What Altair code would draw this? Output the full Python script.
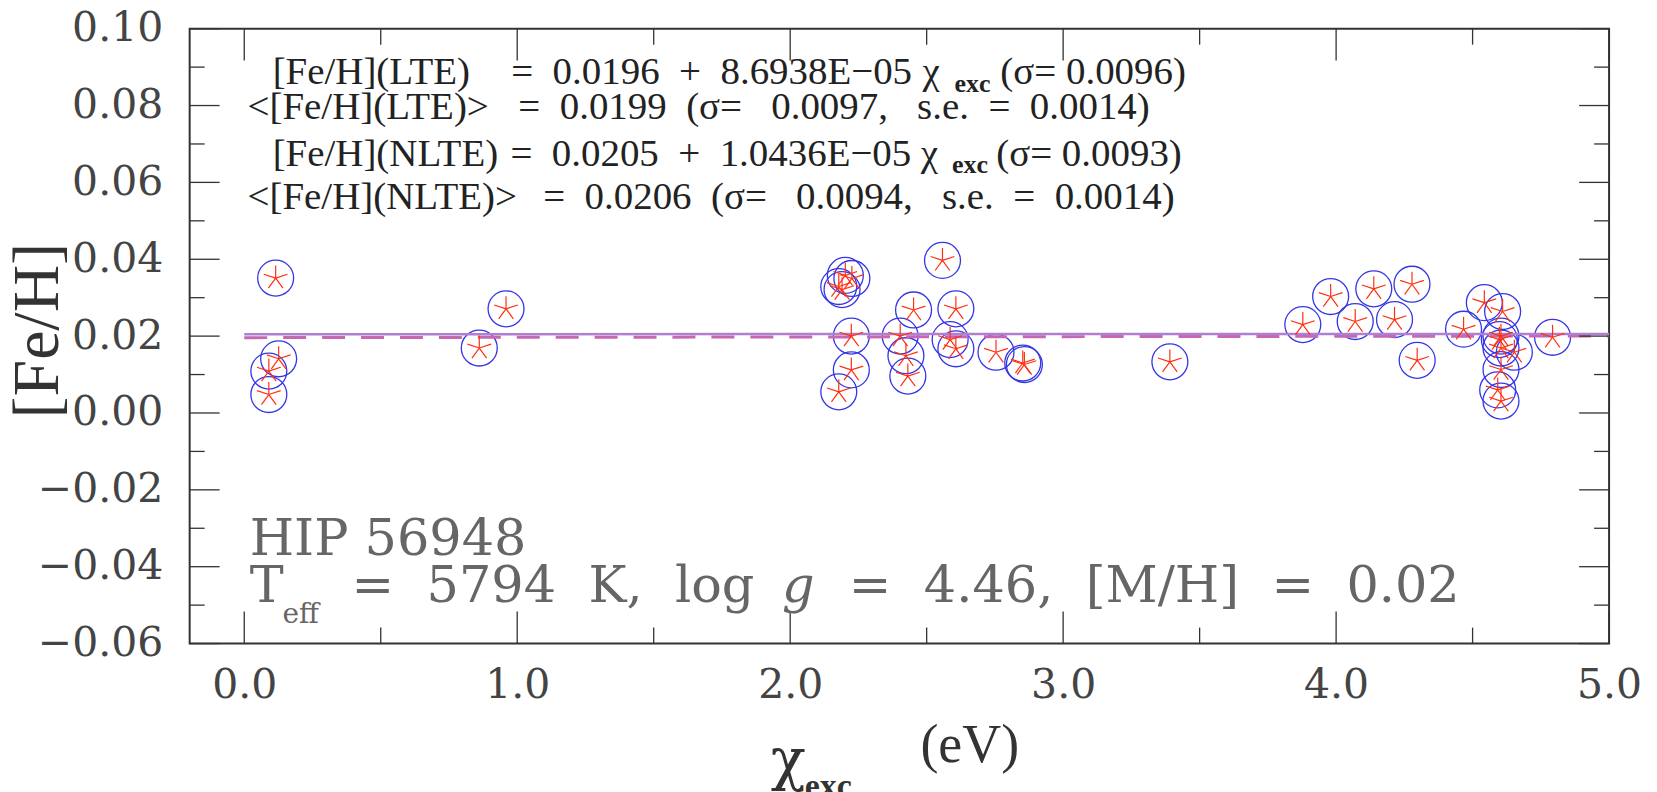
import altair as alt
import pandas as pd

# ---------------- data ----------------
chi_exc = [0.115, 0.126, 0.090, 0.090,
           0.861, 0.959,
           2.178, 2.190, 2.202, 2.226, 2.224, 2.224, 2.178,
           2.558, 2.452, 2.607, 2.403, 2.424, 2.431, 2.586, 2.607, 2.754, 2.852, 2.858,
           3.391,
           3.878, 3.980, 4.070, 4.138, 4.214, 4.278, 4.297,
           4.467, 4.543, 4.610, 4.604, 4.598, 4.604, 4.653, 4.604, 4.592, 4.604, 4.793]
fe_h = [0.0351, 0.0141, 0.0109, 0.0048,
        0.0169, 0.0271,
        0.0329, 0.0321, 0.0358, 0.0350, 0.0200, 0.0112, 0.0055,
        0.0397, 0.0268, 0.0271, 0.0200, 0.0149, 0.0096, 0.0191, 0.0167, 0.0158, 0.0130, 0.0126,
        0.0133,
        0.0230, 0.0303, 0.0238, 0.0323, 0.0243, 0.0335, 0.0137,
        0.0218, 0.0287, 0.0264, 0.0200, 0.0191, 0.0169, 0.0158, 0.0113, 0.0060, 0.0031, 0.0197]

fit_names = ["LTE", "NLTE"]
fit_intercept = [0.0196, 0.0205]
fit_slope = [8.6938e-05, 1.0436e-05]
fit_x_range = [0.0, 5.0]

x_major = [0.0, 1.0, 2.0, 3.0, 4.0, 5.0]
x_minor = [0.5, 1.5, 2.5, 3.5, 4.5]
y_major = [-0.06, -0.04, -0.02, 0.0, 0.02, 0.04, 0.06, 0.08, 0.10]
y_minor = [-0.05, -0.03, -0.01, 0.01, 0.03, 0.05, 0.07, 0.09]

NB = "\u00a0"
S2 = NB * 2
S3 = NB * 3

# top annotation (main text)
ann_text = ["[Fe/H](LTE)",
            "=" + S2 + "0.0196" + S2 + "+" + S2 + "8.6938E\u221205",
            "\u03c7",
            "(\u03c3=" + NB + "0.0096)",
            "<[Fe/H](LTE)>",
            "=" + S2 + "0.0199" + S2 + "(\u03c3=" + S3 + "0.0097," + S3 + "s.e." + S2 + "=" + S2 + "0.0014)",
            "[Fe/H](NLTE)",
            "=" + S2 + "0.0205" + S2 + "+" + S2 + "1.0436E\u221205",
            "\u03c7",
            "(\u03c3=" + NB + "0.0093)",
            "<[Fe/H](NLTE)>",
            "=" + S2 + "0.0206" + S2 + "(\u03c3=" + S3 + "0.0094," + S3 + "s.e." + S2 + "=" + S2 + "0.0014)"]
ann_x = [0.104, 0.978, 2.485, 2.770, 0.012, 1.004, 0.104, 0.975, 2.478, 2.755, 0.012, 1.095]
ann_y = [0.0855, 0.0855, 0.0855, 0.0855, 0.0764, 0.0764,
         0.0643, 0.0643, 0.0643, 0.0643, 0.0530, 0.0530]

sub_text = ["exc", "exc"]
sub_x = [2.602, 2.593]
sub_y = [0.0836, 0.0625]

# star info (bottom left)
star_text = ["HIP" + NB + "56948", "T",
             "=" + S2 + "5794" + S2 + "K," + S2 + "log",
             "=" + S2 + "4.46," + S2 + "[M/H]" + S2 + "=" + S2 + "0.02"]
star_x = [0.0198, 0.0198, 0.393, 2.215]
star_y = [-0.0370, -0.0492, -0.0492, -0.0492]
star_sub_text = ["eff"]
star_sub_x = [0.1404]
star_sub_y = [-0.0547]
star_it_text = ["g"]
star_it_x = [1.970]
star_it_y = [-0.0492]

# x axis title pieces
xt_chi = ["\u03c7"]
xt_chi_x = [1.929]
xt_chi_y = [-0.0952]
xt_sub = ["exc"]
xt_sub_x = [2.053]
xt_sub_y = [-0.0999]
xt_unit = ["(eV)"]
xt_unit_x = [2.477]
xt_unit_y = [-0.0907]

# ---------------- styles ----------------
TICK = "#333333"
TXT = "#222222"
GRAY = "#666666"
SERIF = "Liberation Serif"
WIDE = "DejaVu Serif"
STAR = "M0,-1L0,0M0.951,-0.309L0,0M0.588,0.809L0,0M-0.588,0.809L0,0M-0.951,-0.309L0,0"

xs = alt.Scale(domain=[-0.2, 5.0], nice=False, zero=False)
ys = alt.Scale(domain=[-0.06, 0.10], nice=False, zero=False)

pts = pd.DataFrame({"chi": chi_exc, "feh": fe_h})

xaxis = alt.Axis(values=x_major, format=".1f", ticks=False, tickSize=0, domain=False,
                 grid=False, labelFont=WIDE, labelFontSize=41, labelColor="#444444",
                 labelPadding=22, labelFlush=False, labelOverlap=False, title=None)
yaxis = alt.Axis(values=y_major, format=".2f", ticks=False, tickSize=0, domain=False,
                 grid=False, labelFont=WIDE, labelFontSize=41, labelColor="#444444",
                 labelPadding=27, labelFlush=False, labelOverlap=False,
                 title="[Fe/H]", titleFont=SERIF, titleFontSize=66, titleFontWeight="normal",
                 titleColor="#333333", titleX=-132, titleY=302, titleAngle=270,
                 titleBaseline="alphabetic", titleAlign="center")


def X(field):
    return alt.X(field, scale=xs, axis=xaxis)


def Y(field):
    return alt.Y(field, scale=ys, axis=yaxis)


circles = alt.Chart(pts).mark_point(
    shape="circle", filled=False, size=1296, color="#3535e8", strokeWidth=1.3, opacity=1
).encode(x=X("chi:Q"), y=Y("feh:Q"))

stars = alt.Chart(pts).mark_point(
    shape=STAR, filled=False, size=625, color="#ff3010", strokeWidth=1.2, opacity=1
).encode(x=X("chi:Q"), y=Y("feh:Q"))

# fit lines
rows = []
for n, a, b in zip(fit_names, fit_intercept, fit_slope):
    for xv in fit_x_range:
        rows.append({"fit": n, "x": xv, "y": a + b * xv})
fits = pd.DataFrame(rows)

lte_line = alt.Chart(fits[fits.fit == "LTE"]).mark_line(
    color="#c468b4", strokeWidth=3, strokeDash=[23, 16]
).encode(x=X("x:Q"), y=Y("y:Q"))
nlte_line = alt.Chart(fits[fits.fit == "NLTE"]).mark_line(
    color="#b07fd0", strokeWidth=2.5
).encode(x=X("x:Q"), y=Y("y:Q"))


def vticks(vals, base, off):
    d = pd.DataFrame({"v": vals, "b": [base] * len(vals)})
    return alt.Chart(d).mark_rule(color=TICK, strokeWidth=1.3, y2Offset=off).encode(
        x=X("v:Q"), y=Y("b:Q"), y2="b:Q")


def hticks(vals, base, off):
    d = pd.DataFrame({"v": vals, "b": [base] * len(vals)})
    return alt.Chart(d).mark_rule(color=TICK, strokeWidth=1.3, x2Offset=off).encode(
        y=Y("v:Q"), x=X("b:Q"), x2="b:Q")


ticks = [vticks(x_major, -0.06, -32), vticks(x_minor, -0.06, -16),
         vticks(x_major, 0.10, 32), vticks(x_minor, 0.10, 16),
         hticks(y_major, -0.2, 30), hticks(y_minor, -0.2, 15),
         hticks(y_major, 5.0, -30), hticks(y_minor, 5.0, -15)]


def text_layer(texts, xv, yv, font, size, color, weight="normal", style="normal"):
    d = pd.DataFrame({"t": texts, "x": xv, "y": yv})
    return alt.Chart(d).mark_text(
        align="left", baseline="alphabetic", font=font, fontSize=size, color=color,
        fontWeight=weight, fontStyle=style
    ).encode(x=X("x:Q"), y=Y("y:Q"), text="t:N")


texts = [
    text_layer(ann_text, ann_x, ann_y, SERIF, 39, TXT),
    text_layer(sub_text, sub_x, sub_y, SERIF, 26, TXT, weight="bold"),
    text_layer(star_text, star_x, star_y, WIDE, 51, GRAY),
    text_layer(star_sub_text, star_sub_x, star_sub_y, WIDE, 28, GRAY),
    text_layer(star_it_text, star_it_x, star_it_y, WIDE, 51, GRAY, style="italic"),
    text_layer(xt_chi, xt_chi_x, xt_chi_y, WIDE, 58, "#333333"),
    text_layer(xt_sub, xt_sub_x, xt_sub_y, SERIF, 34, "#333333", weight="bold"),
    text_layer(xt_unit, xt_unit_x, xt_unit_y, SERIF, 54, "#333333"),
]

chart = alt.layer(circles, lte_line, nlte_line, *ticks, stars, *texts).properties(
    width=1422, height=616,
    padding={"left": 182, "top": 20, "right": 40, "bottom": 148},
    autosize=alt.AutoSizeParams(type="none"),
    background="white",
).configure_view(stroke="#333333", strokeWidth=2)

chart.save("out.html", embed_options={"renderer": "svg", "actions": False})
